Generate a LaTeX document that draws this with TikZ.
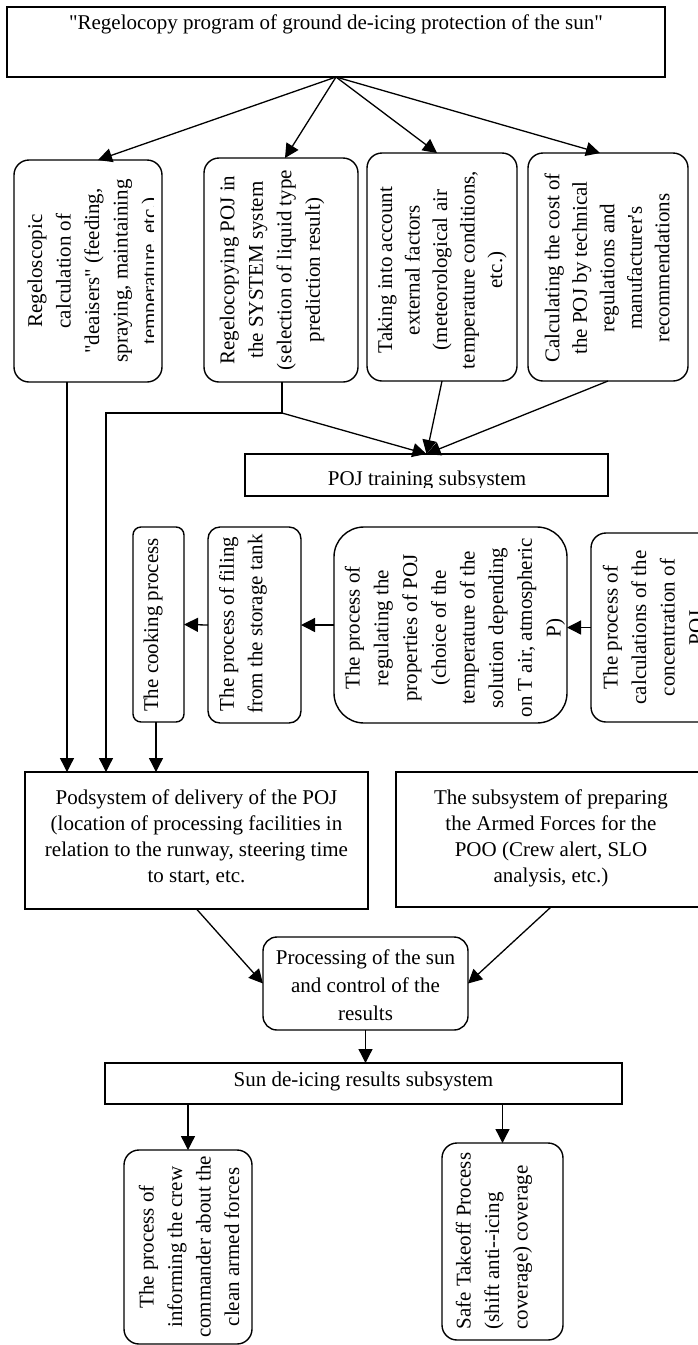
\documentclass[tikz,border=0pt]{standalone}
\usepackage{fontspec}
\setmainfont{Liberation Serif}
\usetikzlibrary{arrows.meta,calc}
\begin{document}
\begin{tikzpicture}[x=1pt,y=-1pt,
  line width=1.3pt,
  box/.style={draw, line width=1.4pt, inner sep=0pt, outer sep=0pt},
  rbox/.style={box, rounded corners=#1},
  rbox/.default=15pt,
  txt/.style={inner sep=0pt, font=\fontsize{21}{26}\selectfont, align=center},
  vtxt/.style={inner sep=0pt, rotate=90, font=\fontsize{21}{28.5}\selectfont, align=center},
  arr/.style={-{Triangle[length=14pt,width=14pt]}, line width=1.3pt}
]
\useasboundingbox (0,0) rectangle (698,1345);
\fill[white] (0,0) rectangle (698,1345);

% top box
\node[box, minimum width=658pt, minimum height=70pt] (top) at (336,42) {};
\node[txt] (ttop) at (336,24) {\textquotedbl Regelocopy program of ground de-icing protection of the sun\textquotedbl};

% first row
\node[rbox, minimum width=148pt, minimum height=222pt] (b1) at (88,271) {};
\begin{scope}
\clip (14,160) rectangle (153,382);
\node[vtxt] (t1) at (94,271) {Regeloscopic\\calculation of\\\textquotedbl deaisers\textquotedbl{} (feeding,\\spraying, maintaining\\temperature, etc.)};
\end{scope}

\node[rbox, minimum width=154pt, minimum height=224pt] (b2) at (281,270) {};
\node[vtxt] (t2) at (272,270) {Regelocopying POJ in\\the SYSTEM system\\(selection of liquid type\\prediction result)};

\node[rbox, minimum width=150pt, minimum height=228pt] (b3) at (442,267) {};
\node[vtxt, font=\fontsize{21}{27.5}\selectfont] (t3) at (442,270) {Taking into account\\external factors\\(meteorological air\\temperature conditions,\\etc.)};

\node[rbox, minimum width=160pt, minimum height=228pt] (b4) at (608,267) {};
\node[vtxt, font=\fontsize{21}{27.5}\selectfont] (t4) at (607,268) {Calculating the cost of\\the POJ by technical\\regulations and\\manufacturer\textquotesingle s\\recommendations};

% training subsystem
\node[box, minimum width=363pt, minimum height=42pt] (train) at (426.5,475) {};
\begin{scope}
\clip (245,454) rectangle (608,487);
\node[txt, anchor=base] (ttrain) at (427,485) {POJ training subsystem};
\end{scope}

% second row
\node[rbox=8pt, minimum width=51pt, minimum height=195pt] (cook) at (158.5,624.5) {};
\node[vtxt] (t5) at (153,625) {The cooking process};

\node[rbox=12pt, minimum width=93pt, minimum height=196pt] (fill) at (254.5,625) {};
\node[vtxt] (t6) at (243,624) {The process of filing\\from the storage tank};

\node[rbox=30pt, minimum width=233pt, minimum height=196pt] (reg) at (450.5,625) {};
\node[vtxt, font=\fontsize{21}{28.7}\selectfont] (t7) at (455,628) {The process of\\regulating the\\properties of POJ\\(choice of the\\temperature of the\\solution depending\\on T air, atmospheric\\P)};

\node[rbox, minimum width=128pt, minimum height=189pt] (conc) at (655,627.5) {};
\node[vtxt] (t8) at (653,627.5) {The process of\\calculations of the\\concentration of\\POJ};

% third row
\node[box, minimum width=343pt, minimum height=137pt] (pod) at (196.5,840.5) {};
\node[txt] (t9) at (196.5,838) {Podsystem of delivery of the POJ\\(location of processing facilities in\\relation to the runway, steering time\\to start, etc.};

\node[box, minimum width=310pt, minimum height=135pt] (armed) at (551,839.5) {};
\node[txt] (t10) at (551,838) {The subsystem of preparing\\the Armed Forces for the\\POO (Crew alert, SLO\\analysis, etc.)};

\node[rbox=14pt, minimum width=205pt, minimum height=93pt] (proc) at (365.5,983.5) {};
\node[txt, font=\fontsize{21}{28}\selectfont] (t11) at (365.5,985) {Processing of the sun\\and control of the\\results};

\node[box, minimum width=517pt, minimum height=41pt] (sun) at (363.5,1083.5) {};
\node[txt] (t12) at (363.5,1081) {Sun de-icing results subsystem};

\node[rbox, minimum width=128pt, minimum height=194pt] (bl) at (188,1247) {};
\node[vtxt] (t13) at (189,1247) {The process of\\informing the crew\\commander about the\\clean armed forces};

\node[rbox, minimum width=121pt, minimum height=197pt] (br) at (502.5,1241.5) {};
\node[vtxt, align=left, anchor=west] (t14) at (494,1330) {Safe Takeoff Process\\(shift anti-{}-icing\\coverage) coverage};

% connectors: top fan
\draw[arr] (top.south) -- ([xshift=10pt]b1.north);
\draw[arr] (top.south) -- ([xshift=4pt]b2.north);
\draw[arr] (top.south) -- ([xshift=-5pt]b3.north);
\draw[arr] (top.south) -- ([xshift=-8pt]b4.north);

% first row to training / delivery
\coordinate (c1) at ([xshift=53pt]b1.south west);
\draw[arr] (c1) -- (c1 |- pod.north);
\coordinate (j2) at (282,413);
\coordinate (k2) at (106,413);
\draw (b2.south -| j2) -- (j2);
\draw[arr] (j2) -- (train.north);
\draw[arr] (j2) -- (k2) -- (k2 |- pod.north);
\draw[arr] (b3.south) -- (train.north);
\draw[arr] (b4.south) -- (train.north);

% second row chain
\draw[arr] (conc.west) -- (conc.west -| reg.east);
\draw[arr] (reg.west) -- (fill.east);
\draw[arr] (fill.west) -- (cook.east);
\coordinate (c5) at ([xshift=-2.5pt]cook.south);
\draw[arr] (c5) -- (c5 |- pod.north);

% to processing
\draw[arr] (pod.south) -- (proc.west);
\draw[arr] (armed.south) -- (proc.east);
\draw[arr] (proc.south) -- (proc.south |- sun.north);

% results
\draw[arr] (bl.north |- sun.south) -- (bl.north);
\draw[arr] (br.north |- sun.south) -- (br.north);
\end{tikzpicture}
\end{document}
